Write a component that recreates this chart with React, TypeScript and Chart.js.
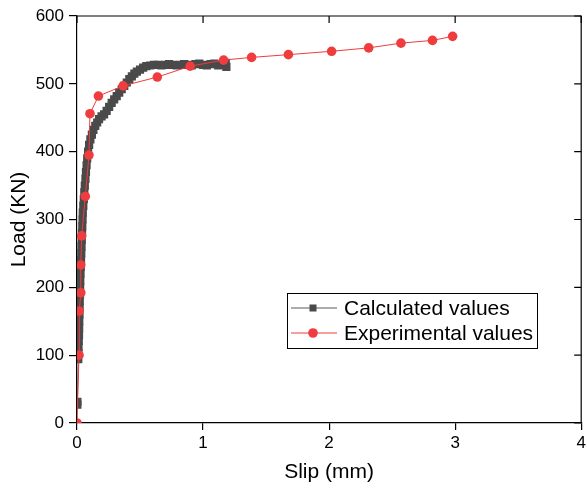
import React, { useEffect, useRef } from 'react';
import { Chart, registerables } from 'chart.js';

Chart.register(...registerables);

const FONT = "'Liberation Sans', Arial, Helvetica, sans-serif";

// Calculated values (slip mm, load kN)
const calcSlip = [
  0.003, 0.003,
  0.010, 0.011, 0.012, 0.014, 0.016, 0.017, 0.018, 0.020, 0.021, 0.022,
  0.024, 0.025, 0.026, 0.028, 0.030, 0.032, 0.034, 0.036, 0.038, 0.040,
  0.042, 0.044, 0.046, 0.050, 0.054, 0.058, 0.062, 0.067, 0.071, 0.076,
  0.081, 0.088, 0.096, 0.106, 0.118, 0.130, 0.145, 0.160, 0.175, 0.195,
  0.215, 0.235, 0.255, 0.275, 0.295, 0.315, 0.335, 0.355, 0.375, 0.395,
  0.415, 0.435, 0.455, 0.475, 0.500, 0.525, 0.550, 0.580, 0.610, 0.640,
  0.670, 0.700, 0.730, 0.760, 0.790, 0.820, 0.850, 0.880, 0.910, 0.940,
  0.970, 1.000, 1.030, 1.060, 1.090, 1.120, 1.150, 1.180, 1.185,
];
const calcLoad = [
  27, 31,
  94, 103, 112, 121, 130, 140, 150, 160, 170, 180,
  190, 200, 210, 220, 230, 240, 250, 260, 270, 280,
  290, 300, 310, 320, 330, 340, 350, 360, 370, 380,
  390, 400, 410, 418, 425, 432, 438, 443, 448, 452,
  455, 460, 466, 472, 477, 482, 487, 492, 497, 502,
  507, 511, 515, 518, 521, 524, 526, 527, 528, 528,
  527, 528, 529, 528, 527, 528, 529, 528, 527, 529,
  530, 528, 527, 529, 530, 527, 528, 531, 525,
];

// Experimental values (slip mm, load kN)
const expSlip = [
  0, 0.016, 0.018, 0.030, 0.030, 0.037, 0.066, 0.095, 0.103, 0.170,
  0.366, 0.637, 0.898, 1.163, 1.385, 1.677, 2.020, 2.314, 2.570, 2.820, 2.980,
];
const expLoad = [
  0, 100, 165, 192, 233, 276, 334, 395, 456, 482,
  497, 510, 526, 535, 539, 543, 548, 553, 560, 564, 570,
];

const xTicks = [0, 1, 2, 3, 4];
const yTicks = [0, 100, 200, 300, 400, 500, 600];

const seriesNames = ['Calculated values', 'Experimental values'];

const GRAY_MARK = '#4a4a4a';
const GRAY_LINE = '#5a5a5a';
const RED = 'rgb(239,60,62)';

export default function App() {
  const ref = useRef<HTMLCanvasElement>(null);

  useEffect(() => {
    if (!ref.current) return;

    const frame = {
      id: 'frame',
      afterDraw(chart: any) {
        const { ctx, chartArea } = chart;
        const xs = chart.scales.x;
        const ys = chart.scales.y;
        ctx.save();
        ctx.strokeStyle = '#000';
        ctx.lineWidth = 1.2;
        ctx.beginPath();
        ctx.moveTo(chartArea.left, chartArea.top);
        ctx.lineTo(chartArea.right, chartArea.top);
        ctx.lineTo(chartArea.right, chartArea.bottom);
        ctx.stroke();
        // inward ticks on top and right
        ctx.beginPath();
        xTicks.forEach((v) => {
          const px = xs.getPixelForValue(v);
          ctx.moveTo(px, chartArea.top);
          ctx.lineTo(px, chartArea.top + 7);
        });
        yTicks.forEach((v) => {
          const py = ys.getPixelForValue(v);
          ctx.moveTo(chartArea.right, py);
          ctx.lineTo(chartArea.right - 7, py);
        });
        ctx.stroke();

        // legend
        const bx = 287.5, by = 293.5, bw = 250, bh = 55;
        ctx.fillStyle = '#fff';
        ctx.fillRect(bx, by, bw, bh);
        ctx.lineWidth = 1;
        ctx.strokeStyle = '#000';
        ctx.strokeRect(bx, by, bw, bh);
        const rows = [308, 333];
        ctx.font = `21px ${FONT}`;
        ctx.textBaseline = 'middle';
        ctx.textAlign = 'left';
        // row 1
        ctx.strokeStyle = GRAY_LINE;
        ctx.beginPath();
        ctx.moveTo(291, rows[0]);
        ctx.lineTo(337, rows[0]);
        ctx.stroke();
        ctx.fillStyle = GRAY_MARK;
        ctx.fillRect(313 - 3.5, rows[0] - 3.5, 7, 7);
        ctx.fillStyle = '#000';
        ctx.fillText(seriesNames[0], 344, rows[0] + 1);
        // row 2
        ctx.strokeStyle = RED;
        ctx.beginPath();
        ctx.moveTo(291, rows[1]);
        ctx.lineTo(337, rows[1]);
        ctx.stroke();
        ctx.fillStyle = RED;
        ctx.beginPath();
        ctx.arc(313, rows[1], 4.8, 0, Math.PI * 2);
        ctx.fill();
        ctx.fillStyle = '#000';
        ctx.fillText(seriesNames[1], 344, rows[1] + 1);
        ctx.restore();
      },
    };

    const chart = new Chart(ref.current, {
      type: 'scatter',
      data: {
        datasets: [
          {
            label: seriesNames[0],
            data: calcSlip.map((x, i) => ({ x, y: calcLoad[i] })),
            showLine: true,
            borderColor: GRAY_LINE,
            borderWidth: 1,
            backgroundColor: GRAY_MARK,
            pointStyle: 'rect',
            pointRadius: 5.8,
            pointBorderWidth: 0,
            pointBackgroundColor: GRAY_MARK,
            order: 1,
            clip: 0,
          } as any,
          {
            label: seriesNames[1],
            data: expSlip.map((x, i) => ({ x, y: expLoad[i] })),
            showLine: true,
            borderColor: RED,
            borderWidth: 1,
            backgroundColor: RED,
            pointStyle: 'circle',
            pointRadius: 4.8,
            pointBorderWidth: 0,
            pointBackgroundColor: RED,
            order: 0,
            clip: 0,
          } as any,
        ],
      },
      options: {
        responsive: false,
        animation: false,
        devicePixelRatio: 1,
        layout: { padding: { left: 0, right: 4, top: 16, bottom: 0 } },
        plugins: {
          legend: { display: false },
          tooltip: { enabled: false },
        },
        scales: {
          x: {
            type: 'linear',
            min: 0,
            max: 4,
            afterBuildTicks: (s: any) => {
              s.ticks = xTicks.map((v) => ({ value: v }));
            },
            ticks: {
              color: '#000',
              font: { family: FONT, size: 17 },
              padding: 3,
              maxRotation: 0,
              autoSkip: false,
            },
            grid: {
              display: true,
              drawOnChartArea: false,
              drawTicks: true,
              tickLength: 7,
              color: '#000',
              lineWidth: 1.2,
            },
            border: { display: true, color: '#000', width: 1.2 },
            title: {
              display: true,
              text: 'Slip (mm)',
              color: '#000',
              font: { family: FONT, size: 21 },
              padding: { top: 0, bottom: 5 },
            },
            afterFit: (s: any) => {
              s.height = 67;
              s.paddingLeft = 0;
              s.paddingRight = 0;
            },
          },
          y: {
            type: 'linear',
            min: 0,
            max: 600,
            afterBuildTicks: (s: any) => {
              s.ticks = yTicks.map((v) => ({ value: v }));
            },
            ticks: {
              color: '#000',
              font: { family: FONT, size: 17 },
              padding: 5,
              autoSkip: false,
            },
            grid: {
              display: true,
              drawOnChartArea: false,
              drawTicks: true,
              tickLength: 8,
              color: '#000',
              lineWidth: 1.2,
            },
            border: { display: true, color: '#000', width: 1.2 },
            title: {
              display: true,
              text: 'Load (KN)',
              color: '#000',
              font: { family: FONT, size: 21 },
              padding: { top: 7, bottom: 0 },
            },
            afterFit: (s: any) => {
              s.width = 77;
              s.paddingTop = 0;
              s.paddingBottom = 0;
            },
          },
        },
      } as any,
      plugins: [frame],
    });

    return () => chart.destroy();
  }, []);

  return (
    <div style={{ position: 'fixed', left: 0, top: 0, width: 587, height: 490, background: '#fff' }}>
      <canvas ref={ref} width={587} height={490} style={{ width: 587, height: 490, display: 'block' }} />
    </div>
  );
}
